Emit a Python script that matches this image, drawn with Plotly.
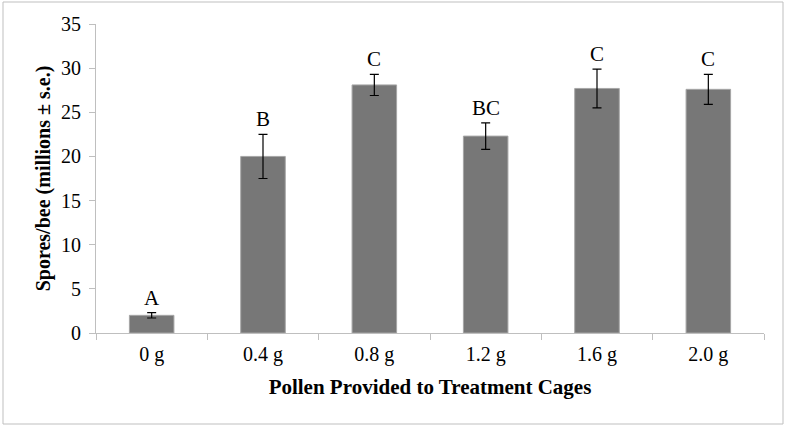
import plotly.graph_objects as go

categories = ["0 g", "0.4 g", "0.8 g", "1.2 g", "1.6 g", "2.0 g"]
spores = [2.0, 20.0, 28.1, 22.3, 27.7, 27.6]
se = [0.3, 2.5, 1.2, 1.5, 2.2, 1.7]
letters = ["A", "B", "C", "BC", "C", "C"]

FONT = "Liberation Serif, Times New Roman, serif"

fig = go.Figure()
fig.add_trace(go.Bar(
    x=categories, y=spores,
    marker=dict(color="#777777", line=dict(color="#a6a6a6", width=1)),
    width=0.4,
    error_y=dict(type="data", array=se, visible=True, color="#000000",
                 thickness=1.2, width=4.5),
    showlegend=False,
))

for c, v, e, t in zip(categories, spores, se, letters):
    fig.add_annotation(x=c, y=v + e, text=t, showarrow=False,
                       yanchor="bottom", yshift=1,
                       font=dict(family=FONT, size=21, color="#000000"))

# outer frame
L, R, T, B = 96, 24, 24, 94
W, H = 788, 427
pw, ph = W - L - R, H - T - B
fig.add_shape(type="rect", xref="paper", yref="paper",
              x0=(3 - L) / pw, x1=(783 - L) / pw,
              y0=(H - B - 424) / ph, y1=(H - B - 2) / ph,
              line=dict(color="#bfbfbf", width=1), layer="below")

fig.update_layout(
    width=W, height=H,
    margin=dict(l=L, r=R, t=T, b=B, autoexpand=False),
    paper_bgcolor="white", plot_bgcolor="white",
    font=dict(family=FONT, color="#000000"),
    bargap=0.6,
)
fig.update_xaxes(
    type="category", automargin=False,
    showline=True, linecolor="#bfbfbf", linewidth=1,
    ticks="outside", tickson="boundaries", ticklen=6, tickcolor="#bfbfbf",
    tickfont=dict(family=FONT, size=20), ticklabelstandoff=3,
    title=dict(text="<b>Pollen Provided to Treatment Cages</b>",
               font=dict(family=FONT, size=21), standoff=14),
    showgrid=False,
)
fig.update_yaxes(
    range=[0, 35], dtick=5, automargin=False,
    showline=True, linecolor="#bfbfbf", linewidth=1,
    ticks="outside", ticklen=6, tickcolor="#bfbfbf",
    tickfont=dict(family=FONT, size=20), ticklabelstandoff=4,
    title=dict(text="<b>Spores/bee (millions ± s.e.)</b>",
               font=dict(family=FONT, size=20), standoff=5),
    showgrid=False, zeroline=False,
)

fig.write_html("out.html", config={"displayModeBar": False},
               post_script="document.body.style.margin='0';document.body.style.overflow='hidden';")
